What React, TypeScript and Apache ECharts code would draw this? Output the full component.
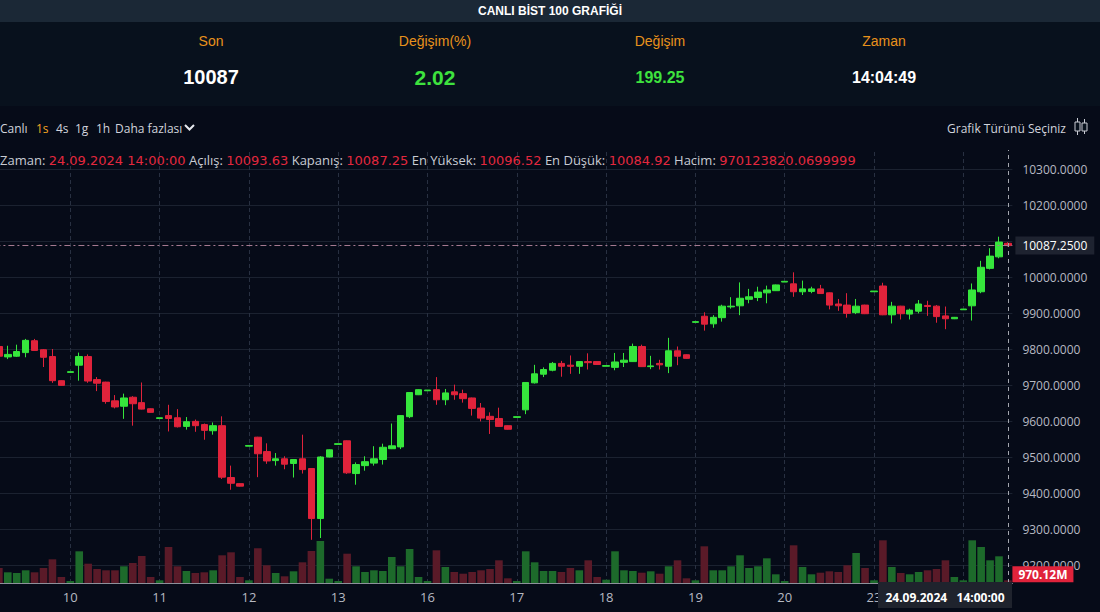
import React, { useEffect, useRef } from "react";
import * as echarts from "echarts";

// ---------- data ----------
const days = ["09", "10", "11", "12", "13", "16", "17", "18", "19", "20", "23", "24"];
const sessionHours = ["09:55", "10:00", "11:00", "12:00", "13:00", "14:00", "15:00", "16:00", "17:00", "18:00"];

const openP = [
  9807, 9778, 9780, 9790, 9823, 9798, 9779, 9712,
  9735, 9755, 9779, 9715, 9708, 9656, 9641, 9666, 9651, 9634,
  9607, 9615, 9609, 9585, 9599, 9590, 9573, 9587, 9443, 9426,
  9530, 9555, 9515, 9490, 9495, 9482, 9495, 9468, 9329, 9500,
  9535, 9545, 9454, 9476, 9483, 9493, 9523, 9528, 9612, 9673,
  9684, 9687, 9659, 9681, 9676, 9664, 9636, 9613, 9607, 9587,
  9610, 9631, 9706, 9730, 9741, 9760, 9755, 9752, 9765, 9765,
  9752, 9749, 9763, 9765, 9807, 9751, 9760, 9752, 9795, 9784,
  9874, 9891, 9870, 9887, 9917, 9920, 9938, 9943, 9956, 9962,
  9986, 9981, 9959, 9960, 9967, 9956, 9925, 9922, 9901, 9922,
  9959, 9975, 9895, 9919, 9897, 9905, 9921, 9919, 9892, 9884,
  9909, 9920, 9959, 10024, 10056, 10093.63,
];
const closeP = [
  9780, 9785, 9793, 9824, 9796, 9777, 9712, 9699,
  9737, 9779, 9711, 9705, 9654, 9639, 9664, 9648, 9633, 9624,
  9609, 9607, 9584, 9598, 9587, 9574, 9587, 9444, 9427, 9419,
  9532, 9509, 9489, 9495, 9480, 9493, 9465, 9329, 9500, 9520,
  9537, 9456, 9479, 9487, 9495, 9527, 9531, 9615, 9679, 9687,
  9686, 9659, 9678, 9673, 9662, 9635, 9608, 9604, 9585, 9577,
  9612, 9707, 9731, 9743, 9760, 9752, 9752, 9765, 9762, 9757,
  9754, 9764, 9769, 9807, 9751, 9753, 9756, 9795, 9780, 9774,
  9876, 9869, 9888, 9919, 9919, 9941, 9945, 9958, 9964, 9978,
  9988, 9959, 9967, 9967, 9954, 9922, 9920, 9899, 9919, 9898,
  9961, 9895, 9919, 9898, 9908, 9925, 9918, 9890, 9884, 9888,
  9911, 9964, 10027, 10058, 10097, 10087.25,
];
const lowP = [
  9775, 9772, 9778, 9777, 9795, 9750, 9706, 9698,
  9735, 9712, 9706, 9683, 9648, 9635, 9606, 9587, 9632, 9623,
  9607, 9571, 9582, 9576, 9570, 9548, 9562, 9439, 9409, 9418,
  9530, 9444, 9481, 9476, 9466, 9443, 9454, 9270, 9275, 9499,
  9535, 9453, 9423, 9462, 9476, 9479, 9522, 9522, 9608, 9672,
  9684, 9645, 9644, 9659, 9651, 9615, 9599, 9564, 9584, 9576,
  9610, 9619, 9704, 9722, 9738, 9723, 9731, 9731, 9743, 9756,
  9752, 9741, 9750, 9764, 9750, 9744, 9743, 9733, 9755, 9773,
  9874, 9851, 9859, 9876, 9912, 9894, 9927, 9933, 9927, 9961,
  9986, 9945, 9950, 9955, 9953, 9910, 9906, 9887, 9897, 9897,
  9959, 9894, 9871, 9882, 9882, 9899, 9892, 9873, 9855, 9883,
  9909, 9879, 9955, 10021, 10052, 10084.92,
];
const highP = [
  9812, 9809, 9812, 9828, 9828, 9800, 9800, 9713,
  9737, 9790, 9785, 9722, 9709, 9672, 9676, 9669, 9707, 9635,
  9609, 9645, 9633, 9611, 9604, 9593, 9596, 9613, 9476, 9427,
  9532, 9556, 9538, 9511, 9502, 9494, 9562, 9469, 9502, 9521,
  9537, 9546, 9485, 9502, 9530, 9537, 9593, 9616, 9680, 9688,
  9686, 9722, 9689, 9701, 9687, 9665, 9650, 9624, 9637, 9588,
  9612, 9708, 9756, 9749, 9764, 9767, 9782, 9766, 9788, 9766,
  9754, 9789, 9789, 9815, 9812, 9781, 9770, 9831, 9807, 9785,
  9876, 9902, 9894, 9923, 9944, 9985, 9967, 9973, 9976, 9979,
  9988, 10013, 9990, 9973, 9978, 9957, 9939, 9955, 9939, 9923,
  9961, 9984, 9931, 9920, 9912, 9936, 9934, 9922, 9918, 9889,
  9911, 9982, 10045, 10080, 10112, 10096.52,
];
// hourly volume, millions TL
const volumeM = [
  5400, 3850, 3600, 4570, 3850, 5400, 8530, 2160,
  720, 11410, 6950, 5040, 4570, 4570, 6010, 7200, 9720, 2160,
  970, 12960, 6010, 4320, 3600, 3850, 4570, 9970, 11050, 2160,
  970, 12490, 6370, 3600, 2410, 4210, 7450, 11520, 15120, 1550,
  720, 10550, 6010, 3960, 4570, 4320, 9360, 6010, 12240, 2160,
  720, 11770, 5760, 3960, 3350, 3960, 4570, 5040, 8170, 1690,
  720, 11410, 7450, 4320, 4320, 3960, 5400, 4570, 8170, 2160,
  1190, 11410, 4570, 4320, 3710, 4210, 3350, 6010, 8170, 1690,
  970, 13210, 4570, 4570, 6010, 9970, 5400, 6010, 8890, 3130,
  720, 13570, 5760, 3130, 3710, 4210, 3960, 6370, 10800, 5400,
  970, 15370, 5760, 3600, 3130, 3960, 4570, 5040, 8170, 2160,
  970, 15370, 12960, 8170, 9610, 970.1238200699999,
];
const lastVolumeRaw = 970123820.0699999;
const lastTimeLabel = "24.09.2024 14:00:00";
const headerLabels = ["Son", "Değişim(%)", "Değişim", "Zaman"];
const headerValues = ["10087", "2.02", "199.25", "14:04:49"];
const periods = ["1s", "4s", "1g", "1h"];

// ---------- helpers ----------
const cats: string[] = [];
days.forEach((d, di) => {
  let hrs = sessionHours;
  if (di === 0) hrs = sessionHours.slice(2);
  if (di === days.length - 1) hrs = sessionHours.slice(0, 6);
  hrs.forEach((h) => cats.push(d + ".09.2024 " + h));
});
const dayStarts = cats.filter((c) => c.endsWith("09:55"));
const lastIdx = cats.length - 1;
const lastDay = days[days.length - 1];

const UP = "#36e63c";
const DOWN = "#e0233b";
const VUP = "#1d6a2b";
const VDOWN = "#5a1a28";
const AXIS_TXT = "#b6b9c2";
const FONT = '"Open Sans", "Noto Sans", sans-serif';
const VFONT = '"DejaVu Sans", "Open Sans", sans-serif';
const NARROW = '"Liberation Sans Narrow", "Liberation Sans", sans-serif';

export default function App() {
  const ref = useRef<HTMLDivElement>(null);
  useEffect(() => {
    if (!ref.current) return;
    const chart = echarts.init(ref.current, undefined, { renderer: "svg" });
    const lastO = openP[lastIdx], lastC = closeP[lastIdx], lastH = highP[lastIdx], lastL = lowP[lastIdx];
    const lastVolM = lastVolumeRaw / 1e6;

    const headerX = [211, 435, 660, 884];
    const valueStyles = [
      { fill: "#ffffff", size: 20 },
      { fill: "#3ee23e", size: 21 },
      { fill: "#3ee23e", size: 16 },
      { fill: "#ffffff", size: 16 },
    ];
    const periodX = [36, 56, 75, 96];

    const graphic: any[] = [
      { type: "rect", z: 100, shape: { x: 0, y: 0, width: 1100, height: 22 }, style: { fill: "#1b2836" } },
      { type: "rect", z: 100, shape: { x: 0, y: 22, width: 1100, height: 84 }, style: { fill: "#08111d" } },
      {
        type: "text", z: 101, x: 550, y: 11,
        style: { text: "CANLI BİST 100 GRAFİĞİ", fill: "#ffffff", font: "bold 12px " + NARROW, align: "center", verticalAlign: "middle" },
      },
      ...headerLabels.map((t, i) => ({
        type: "text", z: 101, x: headerX[i], y: 41,
        style: { text: t, fill: "#e8921c", font: "14px " + NARROW, align: "center", verticalAlign: "middle" },
      })),
      ...headerValues.map((t, i) => ({
        type: "text", z: 101, x: headerX[i], y: 77,
        style: { text: t, fill: valueStyles[i].fill, font: "bold " + valueStyles[i].size + "px " + NARROW, align: "center", verticalAlign: "middle" },
      })),
      // toolbar
      { type: "text", z: 101, x: 0, y: 128, style: { text: "Canlı", fill: "#d1d4dc", font: "12px " + FONT, verticalAlign: "middle" } },
      ...periods.map((t, i) => ({
        type: "text", z: 101, x: periodX[i], y: 128,
        style: { text: t, fill: i === 0 ? "#f5a623" : "#d1d4dc", font: "12px " + FONT, verticalAlign: "middle" },
      })),
      { type: "text", z: 101, x: 115, y: 128, style: { text: "Daha fazlası", fill: "#d1d4dc", font: "12px " + FONT, verticalAlign: "middle" } },
      { type: "polyline", z: 101, shape: { points: [[185, 125], [189.5, 129.5], [194, 125]] }, style: { stroke: "#e6e8ee", lineWidth: 2, fill: null } },
      { type: "text", z: 101, x: 1066, y: 128, style: { text: "Grafik Türünü Seçiniz", fill: "#d1d4dc", font: "12px " + FONT, align: "right", verticalAlign: "middle" } },
      { type: "line", z: 101, shape: { x1: 1077.5, y1: 118, x2: 1077.5, y2: 135 }, style: { stroke: "#c9ccd4", lineWidth: 1 } },
      { type: "rect", z: 102, shape: { x: 1075, y: 122, width: 5, height: 9 }, style: { fill: "#08111d", stroke: "#c9ccd4", lineWidth: 1 } },
      { type: "line", z: 101, shape: { x1: 1084.5, y1: 119, x2: 1084.5, y2: 134 }, style: { stroke: "#c9ccd4", lineWidth: 1 } },
      { type: "rect", z: 102, shape: { x: 1082, y: 123, width: 5, height: 8 }, style: { fill: "#08111d", stroke: "#c9ccd4", lineWidth: 1 } },
      // OHLC legend
      {
        type: "text", z: 101, x: 0, y: 160,
        style: {
          text:
            "{l|Zaman:} {v|" + lastTimeLabel + "} {l|Açılış:} {v|" + lastO.toFixed(2) + "} {l|Kapanış:} {v|" + lastC.toFixed(2) +
            "} {l|En Yüksek:} {v|" + lastH.toFixed(2) + "} {l|En Düşük:} {v|" + lastL.toFixed(2) + "} {l|Hacim:} {v|" + String(lastVolumeRaw) + "}",
          verticalAlign: "middle",
          font: "13px " + FONT,
          rich: {
            l: { fill: "#c9ccd4", fontSize: 13, fontFamily: FONT },
            v: { fill: "#e3283e", fontSize: 13, fontFamily: VFONT },
          },
        },
      },
      // crosshair time label
      { type: "rect", z: 100, shape: { x: 878, y: 582, width: 134, height: 26 }, style: { fill: "#1f232d" } },
      {
        type: "text", z: 101, x: 945, y: 597,
        style: { text: lastTimeLabel.replace(" ", "   "), fill: "#ffffff", font: "bold 12px " + FONT, align: "center", verticalAlign: "middle" },
      },
    ];

    const option: any = {
      animation: false,
      backgroundColor: "#060b18",
      textStyle: { fontFamily: FONT },
      grid: [
        { left: -5.6, right: 87.6, top: 150, bottom: 29, containLabel: false, outerBoundsMode: "none" },
        { left: -5.6, right: 87.6, top: 433, bottom: 29, containLabel: false, outerBoundsMode: "none" },
      ],
      xAxis: [
        {
          type: "category", gridIndex: 0, data: cats, boundaryGap: true,
          axisLine: { show: false }, axisTick: { show: false }, axisLabel: { show: false }, splitLine: { show: false },
        },
        {
          type: "category", gridIndex: 1, data: cats, boundaryGap: true,
          axisLine: { show: true, lineStyle: { color: "#8d919b", width: 1 } },
          axisTick: { show: false },
          axisLabel: {
            // the last day's label sits under the crosshair time label
            interval: (_i: number, v: string) => v.endsWith("09:55") && !v.startsWith(lastDay),
            formatter: (v: string) => String(parseInt(v.slice(0, 2), 10)),
            color: AXIS_TXT, fontSize: 13, margin: 7,
          },
          splitLine: { show: false },
        },
      ],
      yAxis: [
        {
          type: "value", gridIndex: 0, position: "right",
          min: 9150, max: 10352.78, splitNumber: 12, minInterval: 100, maxInterval: 100,
          axisLine: { show: false }, axisTick: { show: false },
          axisLabel: {
            color: AXIS_TXT, fontSize: 12, margin: 10,
            // the tick hidden by the last-price label is left blank
            formatter: (v: number) => (Math.abs(v - lastC) < 25 ? "" : v.toFixed(4)),
            showMinLabel: false, showMaxLabel: false,
          },
          splitLine: { show: true, showMinLine: false, showMaxLine: false, lineStyle: { color: "#1b2230", width: 1 } },
        },
        { type: "value", gridIndex: 1, min: 0, max: 54000, show: false, splitLine: { show: false } },
      ],
      series: [
        {
          name: "dayLines", type: "line", xAxisIndex: 0, yAxisIndex: 0, data: cats.map(() => "-"),
          symbol: "none", silent: true, z: 1,
          markLine: {
            z: 1, silent: true, symbol: ["none", "none"], animation: false,
            label: { show: false },
            lineStyle: { color: "#283041", type: [4, 3], width: 1 },
            data: dayStarts.map((c) => ({ xAxis: c })),
          },
        },
        {
          name: "BIST100", type: "candlestick", xAxisIndex: 0, yAxisIndex: 0, z: 3,
          barWidth: 7,
          data: cats.map((_, i) => [openP[i], closeP[i], lowP[i], highP[i]]),
          itemStyle: { color: UP, color0: DOWN, borderColor: UP, borderColor0: DOWN, borderWidth: 1 },
          markLine: {
            z: 6, silent: true, symbol: ["none", "none"], animation: false,
            data: [
              {
                xAxis: cats[lastIdx],
                lineStyle: { color: "#a3a6ae", type: [4, 4], width: 1 },
                label: { show: false },
              },
              {
                yAxis: lastC,
                lineStyle: { color: "#a57a90", type: [6, 3, 2, 3], width: 1 },
                label: {
                  show: true, position: "end", distance: 3,
                  formatter: lastC.toFixed(4),
                  color: "#ffffff", fontSize: 12,
                  backgroundColor: "#1e2330", padding: [3, 7, 3, 7],
                },
              },
            ],
          },
        },
        {
          name: "Hacim", type: "bar", xAxisIndex: 1, yAxisIndex: 1, z: 2,
          barWidth: 7.6,
          data: volumeM,
          itemStyle: {
            color: (p: any) => (closeP[p.dataIndex] >= openP[p.dataIndex] ? VUP : VDOWN),
          },
          markLine: {
            z: 7, silent: true, symbol: ["none", "none"], animation: false,
            data: [
              {
                yAxis: lastVolM,
                lineStyle: { color: "rgba(0,0,0,0)", width: 0 },
                label: {
                  show: true, position: "end", distance: 0,
                  formatter: lastVolM.toFixed(2) + "M",
                  color: "#ffffff", fontSize: 12, fontWeight: "bold",
                  backgroundColor: "#e0233b", padding: [2, 6, 2, 6], offset: [0, -6],
                },
              },
            ],
          },
        },
      ],
      graphic,
    };
    chart.setOption(option);
    return () => chart.dispose();
  }, []);
  return (
    <div style={{ position: "absolute", left: 0, top: 0, width: 1100, height: 612, background: "#060b18" }}>
      <div ref={ref} style={{ width: 1100, height: 612 }} />
    </div>
  );
}
